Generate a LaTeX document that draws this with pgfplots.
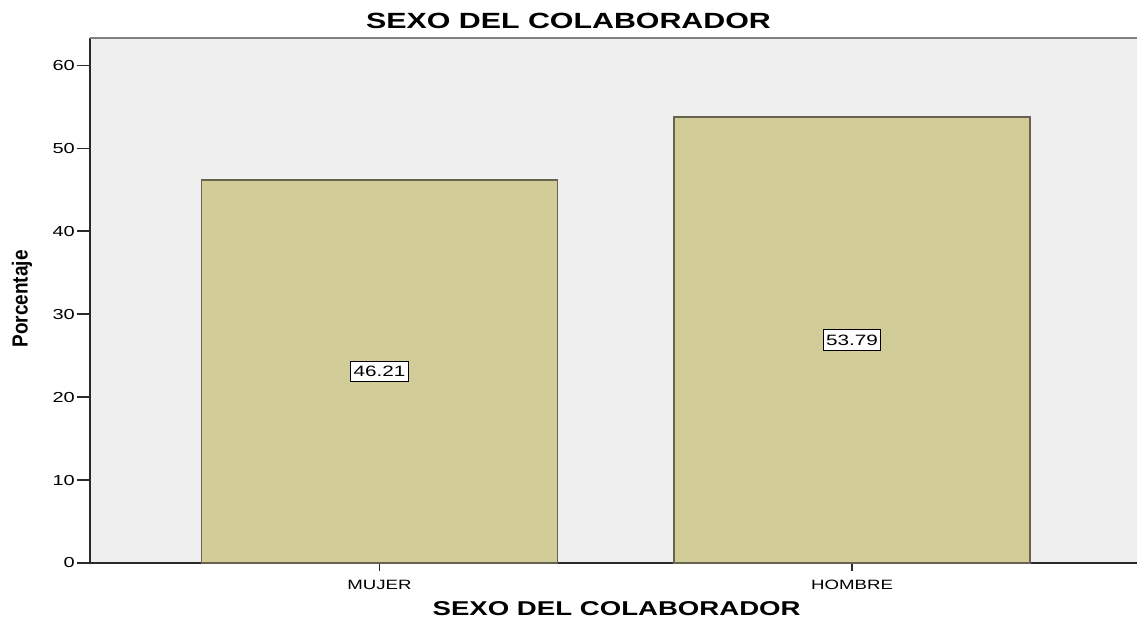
\documentclass[border=0pt]{standalone}
\usepackage{fontspec}
\setmainfont{Liberation Sans}
\usepackage{graphicx}
\usepackage{pgfplots}
\pgfplotsset{compat=1.18}

\definecolor{plotbg}{HTML}{EFEFEF}
\definecolor{barfill}{HTML}{D2CD98}
\definecolor{baredge}{HTML}{66644F}
\definecolor{axisline}{HTML}{2A2A2A}

% image looks stretched sideways, so the texts are too
\newcommand{\wide}[1]{\scalebox{1.38}[1]{#1}}

\begin{document}
\begin{tikzpicture}
\begin{axis}[
    scale only axis,
    width=1047bp, height=525bp,
    xmin=-0.6127, xmax=1.603,
    ymin=0, ymax=63.3,
    axis background/.style={fill=plotbg},
    axis x line=bottom, axis y line=left,
    axis line style={-, line width=1.8bp, color=axisline},
    tick align=outside,
    tick style={line width=1.5bp, color=axisline},
    major tick length=13bp,
    xtick style={/pgfplots/major tick length=8bp},
    xtick={0,1},
    xticklabels={\wide{MUJER},\wide{HOMBRE}},
    xticklabel style={font=\fontsize{13.5bp}{15bp}\selectfont, inner sep=0pt, yshift=-4bp},
    ytick={0,10,20,30,40,50,60},
    yticklabel={\wide{\pgfmathprintnumber[assume math mode=true]{\tick}}},
    yticklabel style={font=\fontsize{14.5bp}{16bp}\selectfont, inner sep=0pt, xshift=-2bp},
    title={\wide{SEXO DEL COLABORADOR}},
    title style={font=\fontsize{22bp}{24bp}\selectfont\bfseries, at={(rel axis cs:0.457,1)}, anchor=base, yshift=4bp},
    xlabel={\wide{SEXO DEL COLABORADOR}},
    xlabel style={font=\fontsize{20bp}{22bp}\selectfont\bfseries, at={(rel axis cs:0.503,0)}, anchor=base, yshift=-52bp},
    ylabel={\scalebox{1}[1.15]{Porcentaje}},
    ylabel style={font=\fontsize{19bp}{21bp}\selectfont\bfseries, at={(rel axis cs:0,0.503)}, anchor=center, yshift=68bp},
    clip=false,
]
\addplot[ybar, bar width=0.7534, bar shift=0pt, fill=barfill, draw=baredge, line width=1.6bp]
    table {
x y
0 46.21
1 53.79
};
% value labels in the middle of each bar
\addplot[draw=none, mark=none, point meta=explicit symbolic,
    nodes near coords={\wide{\pgfplotspointmeta}},
    every node near coord/.append style={anchor=center, draw=black, fill=white, line width=1bp,
        inner xsep=3bp, inner ysep=5bp, font=\fontsize{15bp}{17bp}\selectfont,
        text=black}]
    table[x=x, y expr=\thisrow{y}/2, meta=y] {
x y
0 46.21
1 53.79
};
\draw[gray, line width=1.5bp] (rel axis cs:0,1) -- (rel axis cs:1,1);
\coordinate (bl) at (rel axis cs:0,0);
\coordinate (tr) at (rel axis cs:1,1);
\end{axis}
\pgfresetboundingbox
\path[use as bounding box] ([xshift=-90bp,yshift=-57bp]bl) rectangle ([yshift=38bp]tr);
\end{tikzpicture}
\end{document}
